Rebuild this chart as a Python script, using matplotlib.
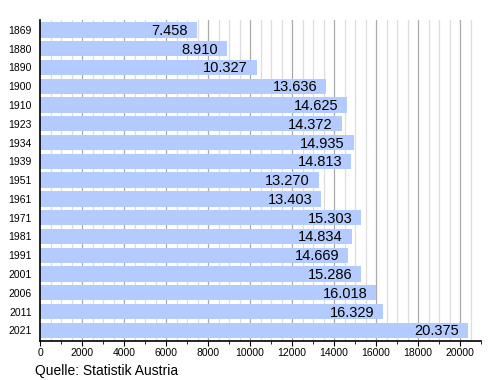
import matplotlib
matplotlib.use("Agg")
import matplotlib.pyplot as plt
import numpy as np
from matplotlib.ticker import MultipleLocator

years = ["1869", "1880", "1890", "1900", "1910", "1923", "1934", "1939", "1951",
         "1961", "1971", "1981", "1991", "2001", "2006", "2011", "2021"]
population = [7458, 8910, 10327, 13636, 14625, 14372, 14935, 14813, 13270,
              13403, 15303, 14834, 14669, 15286, 16018, 16329, 20375]
source = "Quelle: Statistik Austria"

plt.rcParams['font.family'] = ['Liberation Sans', 'DejaVu Sans']

fig = plt.figure(figsize=(5, 3.8), dpi=100)
ax = fig.add_axes([0.08, 0.103, 0.882, 0.844])

pos = np.arange(len(years))
ax.barh(pos, population, height=0.82, color='#b3cbff', zorder=2)

for p, v in zip(pos, population):
    label = f"{v:,}".replace(",", ".")
    ax.text(v - 420, p + 0.05, label, ha='right', va='center', fontsize=10.5,
            color='black', zorder=3)

ax.set_ylim(len(years) - 0.5 + 0.06, -0.5 - 0.02)
ax.set_xlim(0, 21000)
ax.set_yticks(pos)
ax.set_yticklabels(years, fontsize=7.5)
ax.tick_params(axis='y', length=0, pad=6)

ax.xaxis.set_major_locator(MultipleLocator(2000))
ax.xaxis.set_minor_locator(MultipleLocator(1000))
ax.tick_params(axis='x', which='major', length=3.5, labelsize=7.5, pad=2)
ax.tick_params(axis='x', which='minor', length=2)

for x in np.arange(500, 21000, 500):
    if x % 2000 == 0:
        ax.axvline(x, color='#aaaaaa', lw=0.9, zorder=1)
    else:
        ax.axvline(x, color='#dddddd', lw=0.9, zorder=1)

for s in ['top', 'right']:
    ax.spines[s].set_visible(False)
ax.spines['left'].set_linewidth(1.2)
ax.spines['bottom'].set_linewidth(1.2)

fig.text(0.07, 0.012, source, fontsize=10, ha='left', va='baseline')

fig.savefig("out.png", dpi=100)
